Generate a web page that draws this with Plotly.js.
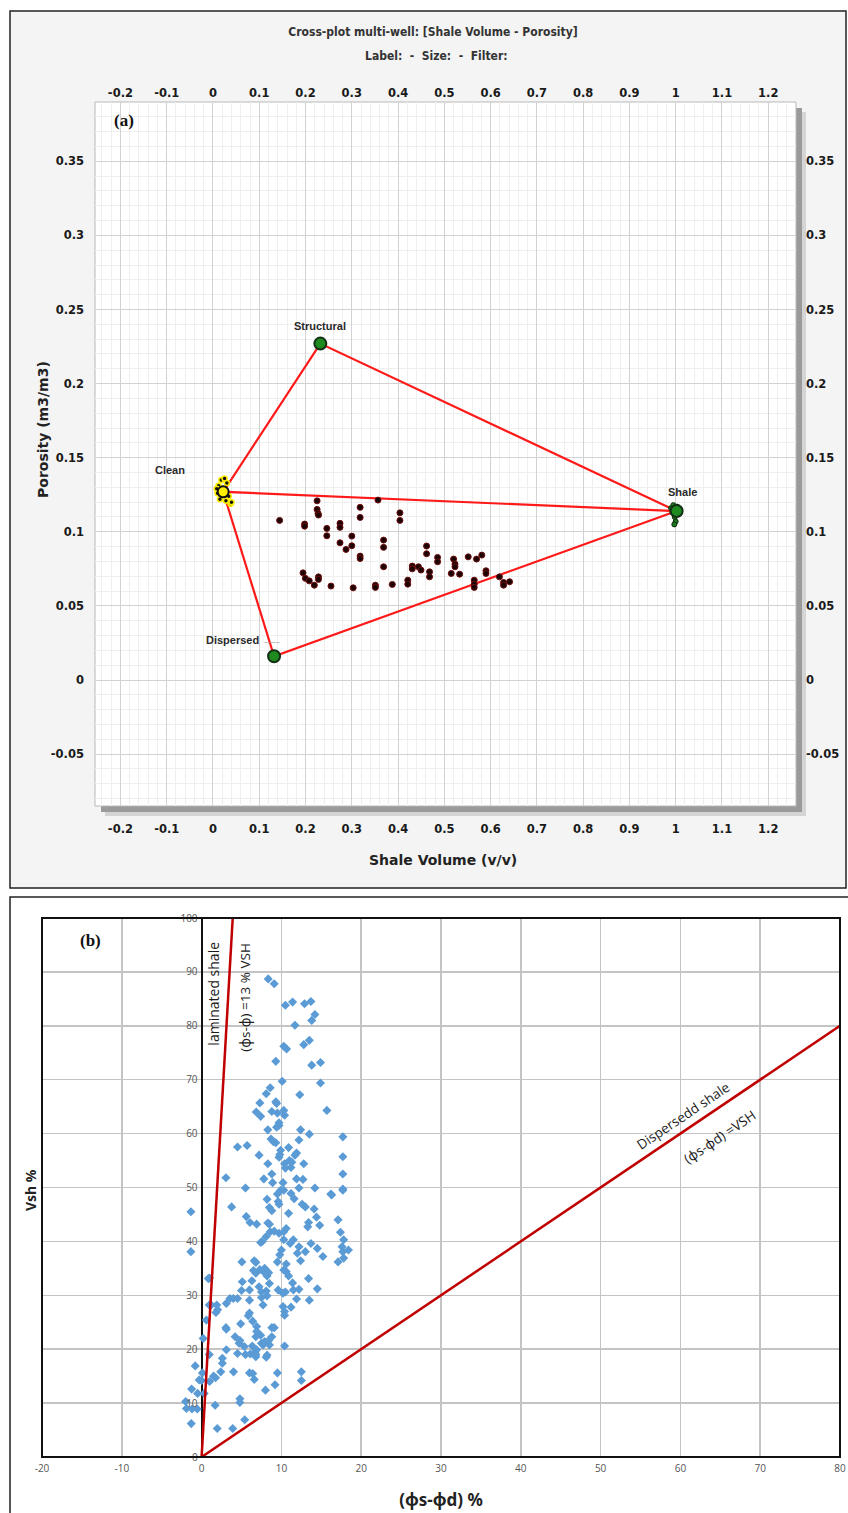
<!DOCTYPE html>
<html>
<head>
<meta charset="utf-8">
<script src="https://cdn.plot.ly/plotly-3.0.1.min.js"></script>
<style>html,body{margin:0;padding:0;background:#fff;}#chart{width:848px;height:1513px;}</style>
</head>
<body>
<div id="chart"></div>
<script>
// ---------- Panel (a) data ----------
const endNames = ["Clean", "Structural", "Shale", "Dispersed"];
const endX = [0.022, 0.232, 1.002, 0.132];
const endY = [0.127, 0.227, 0.114, 0.016];
const polyOrder = [0, 1, 2, 0, 3, 2];

const sampleX = [0.144,0.198,0.198,0.225,0.225,0.227,0.228,0.246,0.246,0.2745,0.2745,0.2745,0.2875,0.300,0.300,0.318,0.318,0.318,0.318,0.3566,0.3687,0.3687,0.3687,0.404,0.404,0.1946,0.1996,0.208,0.219,0.228,0.228,0.255,0.303,0.351,0.351,0.3875,0.421,0.421,0.4307,0.4307,0.444,0.4495,0.468,0.468,0.4616,0.4616,0.4854,0.4854,0.520,0.523,0.523,0.515,0.533,0.5516,0.5696,0.581,0.590,0.590,0.5646,0.5646,0.5646,0.619,0.628,0.628,0.641];
const sampleY = [0.1077,0.1052,0.1038,0.1209,0.1151,0.1124,0.1113,0.1023,0.0973,0.1057,0.1030,0.0926,0.0881,0.0971,0.0906,0.1165,0.1097,0.0836,0.0820,0.1214,0.0944,0.0895,0.0764,0.1128,0.1077,0.0723,0.0686,0.0669,0.0640,0.0696,0.0679,0.0634,0.0622,0.0640,0.0625,0.0645,0.0674,0.0647,0.0769,0.0750,0.0764,0.0742,0.0730,0.0696,0.0904,0.0852,0.0827,0.0798,0.0816,0.0782,0.0764,0.0719,0.0714,0.0831,0.0816,0.0843,0.0737,0.0719,0.0674,0.0647,0.0625,0.0696,0.0658,0.0640,0.0663];

const cleanX = [0.012,0.018,0.025,0.030,0.010,0.015,0.028,0.034,0.038,0.020,0.008,0.026,0.040];
const cleanY = [0.131,0.135,0.136,0.133,0.126,0.122,0.121,0.124,0.119,0.129,0.129,0.127,0.120];
const shaleX = [0.990,0.995,1.003,1.006,0.998,1.000,0.993,1.005,0.997];
const shaleY = [0.116,0.118,0.117,0.112,0.110,0.107,0.113,0.115,0.105];

const xTickValsA = [-0.2,-0.1,0,0.1,0.2,0.3,0.4,0.5,0.6,0.7,0.8,0.9,1,1.1,1.2];
const xTickTextA = ["-0.2","-0.1","0","0.1","0.2","0.3","0.4","0.5","0.6","0.7","0.8","0.9","1","1.1","1.2"];
const yTickValsA = [-0.05,0,0.05,0.1,0.15,0.2,0.25,0.3,0.35];
const yTickTextA = ["-0.05","0","0.05","0.1","0.15","0.2","0.25","0.3","0.35"];

// ---------- Panel (b) data ----------
const vshX = [8.35,9.1,10.5,11.4,12.9,13.7,14.2,13.8,11.7,10.3,10.65,12.8,13.5,9.3,13.8,14.9,14.9,10.1,8.6,8.1,12.3,7.3,6.85,7.4,9.3,9.4,8.8,9.5,10.3,10.4,9.7,9.7,9.4,8.3,12.4,13.5,15.7,17.7,17.7,17.7,17.7,8.7,9.0,9.3,12.2,4.5,5.7,7.2,9.9,9.8,10.9,11.9,11.7,9.7,8.3,10.4,11.0,11.3,10.5,11.2,12.8,8.8,3.05,7.8,11.9,12.7,8.9,10.2,5.5,10.3,12.2,14.2,16.2,
 -1.34,-1.34,3.76,5.6,6.06,6.9,8.2,8.5,8.8,9.6,9.7,9.5,9.9,11.2,11.6,10.9,12.6,13.0,14.1,14.8,14.4,13.4,13.3,16.3,17.7,17.1,17.4,17.8,17.6,17.7,18.4,17.8,17.1,15.2,14.5,13.7,13.0,12.2,12.0,12.4,11.5,11.1,10.3,10.3,10.6,9.7,9.1,8.6,8.1,7.6,7.4,8.3,8.5,10.0,9.8,9.5,10.6,10.3,10.6,10.9,11.4,12.2,11.5,13.4,14.5,13.5,11.9,10.5,10.2,9.6,10.2,10.4,10.4,11.2,8.2,7.9,8.4,8.5,8.1,8.2,7.2,7.5,7.5,7.7,7.9,7.3,6.8,6.6,6.5,6.8,6.3,5.1,5.05,6.0,6.0,5.0,3.55,3.97,4.5,3.1,0.84,1.0,0.96,1.2,1.9,1.8,2.0,0.6,0.2,0.96,0.1,-0.8,0.0,1.0,1.5,1.75,2.4,2.6,2.6,3.1,3.05,3.1,4.2,4.0,4.5,4.7,4.8,4.9,5.35,5.5,6.1,6.35,6.4,6.0,6.6,5.85,6.0,6.4,6.9,6.9,6.8,7.4,7.5,7.7,6.9,6.7,6.8,6.8,7.9,8.4,8.5,8.2,8.1,8.8,9.1,8.8,8.0,9.5,9.2,10.4,12.5,12.5,-1.25,-1.9,-1.2,-0.54,-2.0,-1.3,-0.5,0.33,-0.3,4.8,4.8,1.7,1.96,3.9,5.4];
const vshY = [88.7,87.8,83.8,84.4,84.1,84.5,82.1,81.0,80.1,76.2,75.7,76.5,77.3,73.4,72.7,73.2,69.4,69.7,68.5,67.4,67.2,65.7,64.0,63.2,65.9,65.6,64.1,63.8,64.3,63.4,62.0,61.5,61.2,60.7,60.7,59.9,64.3,59.4,55.7,52.5,49.7,59.0,58.5,58.3,58.8,57.5,57.8,56.0,56.9,56.1,57.4,56.4,56.0,55.6,54.4,54.4,55.0,54.7,53.6,53.7,54.4,52.5,51.8,51.6,51.6,51.5,50.9,50.9,49.9,49.5,49.9,49.9,48.8,
 45.5,38.1,46.4,44.6,43.5,43.2,47.8,46.3,45.7,47.4,46.9,48.8,49.5,48.9,47.9,45.2,46.9,46.4,46.0,43.0,44.5,43.5,42.7,48.6,49.5,44.0,41.7,40.3,39.0,38.1,38.4,36.9,36.2,37.2,38.7,39.6,38.1,39.0,37.8,36.4,40.3,39.6,40.3,41.8,42.4,41.5,41.9,41.8,40.9,40.0,39.8,43.4,43.2,38.4,37.5,36.2,35.8,34.7,34.4,33.6,32.3,31.1,31.0,33.1,31.2,29.1,29.3,30.6,30.4,31.0,27.9,27.0,26.3,27.8,33.6,34.2,34.2,32.2,30.8,29.9,31.6,30.6,29.6,28.2,35.0,34.8,36.1,36.4,34.6,34.1,32.7,32.5,36.2,31.0,29.1,30.9,29.4,29.4,29.4,28.5,33.1,33.2,28.2,28.2,28.2,26.8,27.3,25.4,22.0,19.0,15.6,16.9,14.2,14.0,15.0,14.7,15.8,17.4,18.3,19.9,24.0,23.7,22.3,15.8,19.2,21.1,21.6,24.7,20.5,19.0,19.1,20.6,15.5,15.6,14.4,26.2,26.7,25.2,24.2,23.3,22.3,22.6,21.1,20.8,19.9,19.5,19.0,18.6,21.4,21.6,20.8,18.9,18.5,24.0,24.0,22.3,12.4,15.6,13.4,20.6,15.8,14.2,12.6,9.0,8.9,8.9,10.3,6.2,11.8,11.8,14.3,10.8,10.1,9.6,5.3,5.3,6.9];

const lamX = [0, 3.9], lamY = [0, 100];
const dispX = [0, 80], dispY = [0, 80];

const xTickValsB = [-20,-10,0,10,20,30,40,50,60,70,80];
const xTickTextB = ["-20","-10","0","10","20","30","40","50","60","70","80"];
const yTickValsB = [0,10,20,30,40,50,60,70,80,90,100];
const yTickTextB = ["0","10","20","30","40","50","60","70","80","90","100"];

// ---------- geometry helpers (pixels -> paper) ----------
const W = 848, H = 1513;
const px = v => v / W;
const py = v => 1 - v / H;

const A = {l: 95, r: 796, t: 102, b: 806};
const B = {l: 42, r: 840, t: 918, b: 1457};

const boldSans = "DejaVu Sans Condensed, DejaVu Sans, sans-serif";
const tickFontA = {family: "DejaVu Sans, sans-serif", size: 11.5, color: "#1a1a1a", weight: "bold"};
const calib = "Open Sans, Noto Sans, sans-serif";

const traces = [
  {x: polyOrder.map(i => endX[i]), y: polyOrder.map(i => endY[i]), xaxis: "x", yaxis: "y",
   mode: "lines", line: {color: "#ff1a1a", width: 2.2}, hoverinfo: "skip", showlegend: false},
  {x: sampleX, y: sampleY, xaxis: "x", yaxis: "y", mode: "markers",
   marker: {size: 6, color: "#1c0404", line: {color: "#6e0c0c", width: 1}}, showlegend: false},
  {x: cleanX, y: cleanY, xaxis: "x", yaxis: "y", mode: "markers",
   marker: {size: 5, color: "#111", line: {color: "#ffee00", width: 1.5}}, showlegend: false},
  {x: shaleX, y: shaleY, xaxis: "x", yaxis: "y", mode: "markers",
   marker: {size: 5, color: "#1e7a1e", line: {color: "#0a2a0a", width: 1}}, showlegend: false},
  {x: endX.slice(1), y: endY.slice(1), xaxis: "x", yaxis: "y", mode: "markers",
   marker: {size: 12, color: "#1f8a1f", line: {color: "#143014", width: 2}}, showlegend: false},
  {x: [endX[0]], y: [endY[0]], xaxis: "x", yaxis: "y", mode: "markers",
   marker: {size: 11, color: "#ffee00", line: {color: "#111", width: 2}}, showlegend: false},
  {x: [null], y: [null], xaxis: "x3", yaxis: "y3", mode: "markers", showlegend: false, hoverinfo: "skip"},
  {x: vshX, y: vshY, xaxis: "x2", yaxis: "y2", mode: "markers",
   marker: {symbol: "diamond", size: 7, color: "#5b9bd5"}, showlegend: false},
  {x: lamX, y: lamY, xaxis: "x2", yaxis: "y2", mode: "lines",
   line: {color: "#c00000", width: 2.5}, showlegend: false, hoverinfo: "skip"},
  {x: dispX, y: dispY, xaxis: "x2", yaxis: "y2", mode: "lines",
   line: {color: "#c00000", width: 2.5}, showlegend: false, hoverinfo: "skip"}
];

const rangeAX = [-0.255, 1.26], rangeAY = [-0.085, 0.39];
const domAX = [px(A.l), px(A.r)], domAY = [py(A.b), py(A.t)];

const labelOffsets = [[-53, 22], [0, 18], [6, 19], [-42, 16]];

function paperText(text, x, y, font, angle) {
  return {text: text, xref: "paper", yref: "paper", x: px(x), y: py(y), xanchor: "center", yanchor: "middle",
    showarrow: false, textangle: angle || 0, font: font};
}

const annotations = [
  paperText("Label:  -  Size:  -  Filter:", 436, 56, {family: boldSans, size: 12, color: "#333", weight: "bold"}),
  paperText("(a)", 124, 120, {family: "Liberation Serif, DejaVu Serif, serif", size: 17, color: "#111", weight: "bold"}),
  paperText("Shale Volume (v/v)", 443, 860, {family: "DejaVu Sans, sans-serif", size: 14, color: "#222", weight: "bold"}),
  paperText("Porosity (m3/m3)", 43, 430, {family: "DejaVu Sans, sans-serif", size: 14, color: "#222", weight: "bold"}, -90),
  paperText("(b)", 90, 940, {family: "Liberation Serif, DejaVu Serif, serif", size: 17, color: "#111", weight: "bold"}),
  paperText("Vsh %", 30, 1190, {family: "Noto Sans, sans-serif", size: 14, color: "#222", weight: "bold"}, -90),
  {text: "laminated shale", xref: "x2", yref: "y2", x: 1.45, y: 86, showarrow: false, textangle: -90,
   font: {family: calib, size: 14, color: "#1a1a1a"}},
  {text: "(ϕs-ϕ) =13 % VSH", xref: "x2", yref: "y2", x: 5.5, y: 85.3, showarrow: false, textangle: -90,
   font: {family: calib, size: 13.5, color: "#1a1a1a"}},
  {text: "Dispersedd shale", xref: "x2", yref: "y2", x: 60.3, y: 63.3, showarrow: false, textangle: -34,
   font: {family: calib, size: 13.5, color: "#1a1a1a"}},
  {text: "(ϕs-ϕd) =VSH", xref: "x2", yref: "y2", x: 64.9, y: 59.4, showarrow: false, textangle: -34,
   font: {family: calib, size: 13.5, color: "#1a1a1a"}}
];
endNames.forEach((n, i) => {
  annotations.push({text: n, xref: "x", yref: "y", x: endX[i], y: endY[i],
    xshift: labelOffsets[i][0], yshift: labelOffsets[i][1], showarrow: false,
    font: {family: "Liberation Sans, Arial, sans-serif", size: 11, color: "#2a2a2a", weight: "bold"}});
});
annotations.push({text: "––––", xref: "x", yref: "y", x: endX[3], y: endY[3], xshift: -2, yshift: 15,
  showarrow: false, font: {family: "Liberation Sans, sans-serif", size: 7, color: "#999"}});

const shapes = [
  {type: "rect", xref: "paper", yref: "paper", x0: px(10), x1: px(846), y0: py(888), y1: py(11),
   fillcolor: "#f4f4f4", line: {color: "#222", width: 1.5}, layer: "below"},
  {type: "rect", xref: "paper", yref: "paper", x0: px(A.l + 10), x1: px(A.r + 10), y0: py(A.b + 10), y1: py(A.t + 10),
   fillcolor: "#d4d4d4", line: {width: 0}, layer: "below"},
  {type: "rect", xref: "paper", yref: "paper", x0: px(A.l + 6), x1: px(A.r + 6), y0: py(A.b + 6), y1: py(A.t + 6),
   fillcolor: "#9a9a9a", line: {width: 0}, layer: "below"},
  {type: "rect", xref: "paper", yref: "paper", x0: domAX[0], x1: domAX[1], y0: domAY[0], y1: domAY[1],
   fillcolor: "#ffffff", line: {color: "#b8b8b8", width: 1}, layer: "below"},
  {type: "rect", xref: "paper", yref: "paper", x0: px(10), x1: px(860), y0: py(1530), y1: py(897),
   fillcolor: "#ffffff", line: {color: "#222", width: 1.5}, layer: "below"},
  {type: "rect", xref: "paper", yref: "paper", x0: px(B.l), x1: px(B.r), y0: py(B.b), y1: py(B.t),
   fillcolor: "rgba(0,0,0,0)", line: {color: "#111", width: 2}, layer: "above"}
];

const layout = {
  width: W, height: H,
  margin: {l: 0, r: 0, t: 0, b: 0},
  paper_bgcolor: "#ffffff",
  plot_bgcolor: "rgba(0,0,0,0)",
  showlegend: false,
  title: {text: "Cross-plot multi-well: [Shale Volume - Porosity]", xref: "paper", yref: "container",
    x: px(433), xanchor: "center", y: py(32), yanchor: "middle",
    font: {family: boldSans, size: 12, color: "#333", weight: "bold"}},
  xaxis: {domain: domAX, anchor: "y", range: rangeAX, tickmode: "array", tickvals: xTickValsA, ticktext: xTickTextA,
    showgrid: true, gridcolor: "#d2d2d2", gridwidth: 1, zeroline: false, showline: false,
    minor: {tickmode: "linear", tick0: 0, dtick: 0.02, showgrid: true, gridcolor: "#efefef", gridwidth: 1},
    ticks: "", tickfont: tickFontA, ticklabelstandoff: 14},
  xaxis3: {overlaying: "x", side: "top", anchor: "y", range: rangeAX, tickmode: "array", tickvals: xTickValsA, ticktext: xTickTextA,
    showgrid: false, zeroline: false, showline: false, ticks: "", tickfont: tickFontA, ticklabelstandoff: 2},
  yaxis: {domain: domAY, anchor: "x", range: rangeAY, tickmode: "array", tickvals: yTickValsA, ticktext: yTickTextA,
    showgrid: true, gridcolor: "#d2d2d2", gridwidth: 1, zeroline: false, showline: false,
    minor: {tickmode: "linear", tick0: 0, dtick: 0.01, showgrid: true, gridcolor: "#efefef", gridwidth: 1},
    ticks: "", tickfont: tickFontA, ticklabelstandoff: 10},
  yaxis3: {overlaying: "y", side: "right", anchor: "x", range: rangeAY, tickmode: "array", tickvals: yTickValsA, ticktext: yTickTextA,
    showgrid: false, zeroline: false, showline: false, ticks: "", tickfont: tickFontA, ticklabelstandoff: 9},
  xaxis2: {domain: [px(B.l), px(B.r)], anchor: "y2", range: [-20, 80], tickmode: "array", tickvals: xTickValsB, ticktext: xTickTextB,
    showgrid: true, gridcolor: "#c4c4c4", gridwidth: 1.5,
    zeroline: true, zerolinecolor: "#111", zerolinewidth: 2, showline: false, ticks: "",
    tickfont: {family: calib, size: 10, color: "#555"}, ticklabelstandoff: 4,
    title: {text: "(ϕs-ϕd) %", font: {family: "Noto Sans, sans-serif", size: 17, color: "#222", weight: "bold"}, standoff: 20}},
  yaxis2: {domain: [py(B.b), py(B.t)], anchor: "free", position: px(201.6), range: [0, 100],
    tickmode: "array", tickvals: yTickValsB, ticktext: yTickTextB,
    showgrid: true, gridcolor: "#c4c4c4", gridwidth: 1.5, zeroline: false, showline: false, ticks: "",
    tickfont: {family: calib, size: 10, color: "#555"}, ticklabelstandoff: 4},
  annotations: annotations,
  shapes: shapes
};

Plotly.newPlot("chart", traces, layout, {displayModeBar: false, staticPlot: true});
</script>
</body>
</html>
